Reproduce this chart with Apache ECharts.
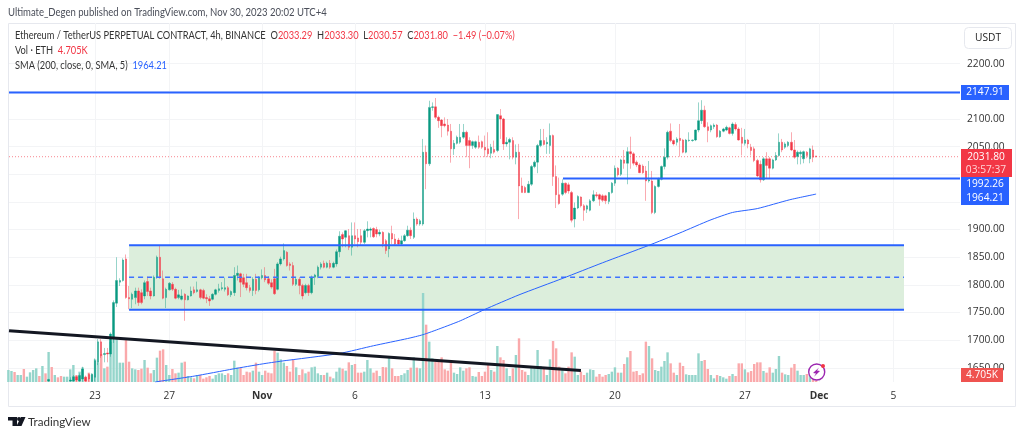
<!DOCTYPE html>
<html><head><meta charset="utf-8">
<style>html,body{margin:0;padding:0;background:#fff}#c{width:1024px;height:437px}</style>
<script src="https://cdn.jsdelivr.net/npm/echarts@6/dist/echarts.min.js"></script>
</head><body><div id="c"></div>
<script>
// open, close, low, high for each 4h candle
const candles=[
[1565,1568,1560,1572],[1568,1572,1565,1575],[1572,1568,1564,1575],[1568,1571,1565,1574],[1571,1575,1568,1578],
[1575,1570,1566,1578],[1570,1574,1568,1577],[1574,1580,1572,1583],[1580,1588,1578,1592],[1588,1596,1585,1600],
[1596,1590,1586,1599],[1590,1600,1588,1606],[1600,1594,1590,1604],[1626,1629,1625,1630],[1616,1606,1600,1620],
[1606,1610,1603,1613],[1610,1606,1602,1613],[1606,1603,1600,1609],[1603,1608,1600,1612],[1608,1616,1605,1622],
[1626,1628,1625,1633],[1626,1634,1625,1637],[1634,1628,1625,1636],[1626,1636,1625,1640],[1630,1648,1625,1652],
[1633,1626,1625,1636],[1638,1630,1625,1640],[1625.5,1639,1625,1640],[1633,1663,1625.5,1667],[1660,1697,1655,1702],
[1697,1672,1668,1702],[1674,1676,1660,1686],[1677,1675,1660,1686],[1675,1711,1670,1714],[1705,1768,1695,1772],
[1767,1808,1760,1850],[1805,1808,1798,1812],[1808,1845,1806,1848],[1847,1777,1775,1855],
[1777,1775,1756,1798],[1774,1783,1758,1786],[1777,1789,1765,1795],[1789,1768,1762,1795],[1786,1768,1765,1792],
[1780,1804,1774,1808],[1806,1788,1780,1815],[1789,1780,1774,1795],[1780,1814,1779,1817],[1814,1850,1811,1853],
[1850,1814,1811,1871],[1811,1776,1774,1826],[1777,1792,1758,1795],[1791,1803,1790,1805],[1801,1792,1789,1805],
[1792,1776,1774,1795],[1777,1782,1774,1791],[1774,1780,1772,1792],[1783,1773,1735,1785],[1773,1780,1772,1781],
[1780,1789,1779,1797],[1791,1786,1783,1797],[1788,1791,1786,1806],[1791,1777,1774,1793],[1790,1776,1774,1793],
[1777,1775,1767,1783],[1775,1771,1762,1780],[1774,1783,1772,1785],[1783,1791,1781,1793],[1790,1793,1786,1802],
[1793,1795,1790,1805],[1792,1795,1788,1813],[1795,1782,1780,1798],[1782,1788,1778,1790],[1786,1817,1780,1832],
[1817,1821,1808,1835],[1820,1805,1778,1822],[1813,1801,1796,1820],[1804,1795,1790,1820],[1795,1790,1786,1800],
[1790,1810,1780,1814],[1810,1790,1783,1820],[1791,1813,1788,1816],[1813,1817,1810,1828],[1817,1809,1805,1832],
[1811,1803,1800,1816],[1804,1796,1793,1810],[1811,1784,1782,1829],[1792,1838,1790,1841],[1838,1847,1835,1851],
[1847,1862,1844,1875],[1859,1835,1833,1861],[1838,1835,1826,1841],[1835,1801,1798,1841],[1801,1810,1798,1813],
[1810,1799,1783,1814],[1799,1780,1774,1802],[1786,1799,1783,1802],[1799,1786,1780,1802],[1786,1814,1783,1817],
[1814,1818,1800,1820],[1815,1832,1812,1835],[1832,1838,1828,1841],[1839,1832,1830,1844],[1832,1839,1830,1842],
[1839,1832,1829,1845],[1832,1839,1830,1842],[1838,1860,1833,1864],[1860,1888,1850,1897],[1891,1883,1868,1895],
[1886,1898,1868,1899],[1889,1868,1863,1901],[1868,1889,1853,1913],[1889,1883,1874,1913],[1885,1878,1868,1901],
[1889,1877,1871,1901],[1877,1898,1874,1901],[1898,1901,1886,1915],[1899,1901,1886,1904],[1902,1887,1885,1904],
[1900,1892,1886,1905],[1892,1895,1888,1900],[1895,1874,1868,1897],[1880,1862,1856,1883],[1865,1893,1850,1895],
[1893,1883,1874,1907],[1883,1874,1871,1892],[1881,1874,1871,1885],[1874,1880,1871,1889],[1880,1889,1878,1892],
[1889,1899,1887,1907],[1899,1889,1883,1904],[1886,1919,1883,1931],[1919,1910,1907,1922],[1910,1916,1907,1919],
[1910,2040,1907,2064],[2040,2019,1973,2052],[2019,2121,2015,2133],[2121,2122,2115,2130],[2122,2103,2100,2138],
[2103,2097,2084,2106],[2098,2088,2067,2100],[2091,2088,2085,2103],[2089,2078,2070,2100],[2078,2046,2021,2091],
[2046,2056,2035,2062],[2056,2067,2054,2070],[2058,2067,2055,2091],[2067,2076,2064,2091],[2076,2052,2031,2079],
[2061,2052,2011,2067],[2052,2059,2046,2061],[2049,2059,2046,2061],[2058,2049,2046,2070],[2059,2049,2046,2061],
[2049,2044,2031,2070],[2046,2037,2031,2076],[2038,2049,2029,2055],[2045,2040,2037,2061],[2043,2108,2040,2108],
[2106,2100,2064,2118],[2100,2055,2044,2102],[2055,2058,2050,2067],[2058,2063,2027,2066],[2061,2031,2027,2067],
[2031,2040,2018,2054],[2040,1979,1919,2055],[1979,1967,1967,1994],[1976,1967,1966,1979],[1967,1982,1966,1988],
[1982,2014,1979,2017],[2014,2022,2011,2025],[2022,2052,2002,2055],[2052,2061,2049,2082],[2061,2054,2052,2082],
[2055,2058,2037,2067],[2052,2070,2037,2092],[2070,1996,1979,2072],[1996,1963,1939,2016],[1963,1947,1945,1994],
[1964,1984,1961,1991],[1984,1967,1964,1985],[1981,1970,1965,1985],[1967,1917,1913,1970],[1919,1939,1904,1949],
[1939,1960,1937,1962],[1959,1943,1940,1960],[1943,1935,1916,1946],[1937,1943,1930,1945],[1935,1952,1933,1955],
[1952,1963,1950,1971],[1963,1961,1958,1968],[1963,1955,1943,1965],[1961,1953,1950,1964],[1961,1952,1946,1963],
[1951,1967,1946,1968],[1967,1984,1965,1986],[1984,2011,1979,2016],[2011,1999,1996,2013],[2000,2026,1997,2028],
[2026,2020,2010,2044],[2020,2041,1982,2049],[2041,2037,2010,2068],[2037,2020,2016,2040],[2022,2017,2013,2025],
[2017,2003,2002,2020],[2015,2003,2001,2018],[2006,1988,1952,2015],[1988,1990,1985,2024],[1988,1931,1928,2006],
[1931,1978,1928,1980],[1978,1991,1976,1994],[1991,2014,1989,2016],[2014,2031,2009,2047],[2031,2076,2027,2079],
[2078,2061,2058,2092],[2061,2055,2052,2063],[2058,2064,2052,2067],[2065,2061,2032,2091],[2062,2040,2038,2064],
[2040,2062,2038,2064],[2061,2062,2059,2076],[2061,2062,2059,2063],[2062,2080,2060,2081],[2080,2097,2076,2130],
[2097,2116,2091,2134],[2116,2086,2084,2124],[2086,2079,2058,2094],[2080,2088,2076,2090],[2086,2089,2082,2092],
[2089,2068,2066,2091],[2068,2078,2066,2080],[2078,2082,2076,2084],[2080,2085,2078,2088],[2084,2074,2072,2086],
[2074,2091,2070,2094],[2090,2082,2079,2094],[2082,2062,2061,2085],[2067,2056,2034,2084],[2056,2062,2052,2082],
[2062,2055,2047,2064],[2049,2043,2034,2055],[2046,2025,2022,2050],[2025,1997,1995,2028],[2018,1990,1985,2025],
[1990,2028,1988,2031],[2028,2016,1993,2040],[2028,2011,1993,2031],[2011,2026,2009,2028],[2026,2034,2024,2040],
[2034,2058,2032,2074],[2058,2044,2040,2064],[2049,2055,2046,2058],[2052,2058,2049,2060],[2058,2044,2042,2076],
[2044,2031,2028,2062],[2032,2040,2018,2043],[2037,2040,2018,2043],[2028,2041,2020,2043],[2040,2034,2029,2042],
[2028,2046,2020,2048],[2044,2031,2022,2052],[2033.29,2031.80,2030.57,2033.30]
];
// volume per candle, thousands of ETH
const volumes=[
36,33,30,21,21,39,16,29,36,41,18,48,26,90,45,21,14,18,16,16,
38,51,21,31,44,16,28,21,68,58,84,41,46,121,136,131,58,58,128,61,
41,38,36,40,66,43,26,36,73,94,98,51,21,39,26,28,58,61,18,14,
11,21,21,10,14,18,10,21,26,26,21,26,21,64,43,43,21,31,29,34,
58,31,21,34,28,26,94,88,68,58,48,31,68,44,21,38,26,31,44,46,
26,21,21,28,16,11,31,43,40,34,59,51,54,28,28,31,66,41,28,34,
18,45,44,76,41,18,18,21,26,36,43,74,43,41,267,172,121,71,61,61,
74,38,34,61,28,24,44,34,41,44,18,16,30,18,31,54,36,31,108,74,
66,41,18,41,81,131,36,31,21,46,46,96,48,44,21,68,123,101,46,36,
26,46,89,76,21,31,21,28,38,36,16,24,16,21,24,31,44,28,28,54,
74,93,31,33,21,26,121,108,71,36,33,46,63,89,56,28,21,58,48,23,
21,21,21,86,63,66,39,21,11,21,18,14,10,18,24,18,56,56,38,29,
33,54,59,59,33,28,44,28,39,78,28,23,21,43,54,34,21,21,24,21,8,4.705
];
// SMA readings: candle position and price
const smaPos=[47.4,60,72.6,82,88,107,118,129,134,139.5,146,153.7,165,179.2,192,206.7,217,226.7,234,242,252.5,261];
const smaVal=[1624.5,1635,1648,1657,1662,1676,1690,1703,1710,1721,1735,1755,1782,1812,1840,1871,1894,1917,1931,1938,1954,1964.21];
// axis ticks
const tickPos=[28,52,82,112,154,196,238,262,286];
const tickText=['23','27','Nov','6','13','20','27','Dec','5'];
const priceTicks=[1650,1700,1750,1800,1850,1900,1950,2000,2050,2100,2150,2200];
// drawn levels
const resistance=2147.91, support=1992.26, supportStart=179.2, lastPrice=2031.80;
const boxTop=1871.8, boxMid=1813.7, boxBottom=1755, boxStart=39, boxEnd=289.4;
const trendPos=[0.2,185], trendVal=[1717.2,1645];
const xMin=0.2,xMax=307.5,yMin=1624.4,yMax=2273.6;

const UP='#089981',DN='#F23645';
const FONT='"Open Sans",sans-serif', HEAD='Lato,sans-serif';
const line=(data,color,width,type,z,extra)=>Object.assign({type:'line',data,xAxisIndex:0,yAxisIndex:0,symbol:'none',silent:true,z:z||5,
  lineStyle:{color,width,type:type||'solid'},animation:false},extra||{});
const rect=(x,y,w,h,fill,r)=>({type:'rect',z:100,shape:{x,y,width:w,height:h,r:r||0},style:{fill}});
const txt=(x,y,t,o,e)=>Object.assign({type:'text',z:101,x,y,style:Object.assign({text:t,fill:'#fff',font:'10.2px '+FONT,textVerticalAlign:'middle'},o||{})},e||{});
const k={fill:'#333',font:'10.6px '+HEAD}, r={fill:'#F23645',font:'10.6px '+HEAD}, b={fill:'#2962FF',font:'10.6px '+HEAD};
const SX=0.875;

const chart=echarts.init(document.getElementById('c'),null,{renderer:'canvas'});
chart.setOption({
 animation:false,backgroundColor:'#fff',
 grid:[{left:9,top:23,width:951,height:359},{left:9,top:23,width:951,height:359}],
 xAxis:[
  {type:'value',gridIndex:0,min:xMin,max:xMax,axisLine:{show:false},
   axisTick:{show:false,customValues:tickPos},
   splitLine:{show:true,lineStyle:{color:'#F3F4F6',width:1}},
   axisLabel:{customValues:tickPos,margin:9,color:'#333',fontFamily:FONT,fontSize:10.2,
     formatter:v=>{const t=tickText[tickPos.indexOf(v)];return (t==='Nov'||t==='Dec')?'{m|'+t+'}':t;},
     rich:{m:{fontWeight:'bold',color:'#333',fontFamily:FONT,fontSize:10.2}}}},
  {type:'value',gridIndex:1,min:xMin,max:xMax,show:false}],
 yAxis:[
  {type:'value',gridIndex:0,position:'right',min:yMin,max:yMax,axisLine:{show:false},
   axisTick:{show:false,customValues:priceTicks},
   splitLine:{show:true,lineStyle:{color:'#F3F4F6',width:1}},
   axisLabel:{customValues:priceTicks,margin:7,color:'#333',fontFamily:FONT,fontSize:10.2,formatter:v=>v.toFixed(2)}},
  {type:'value',gridIndex:1,min:0,max:1077,show:false}],
 series:[
  {type:'bar',xAxisIndex:1,yAxisIndex:1,barWidth:2.4,z:1,silent:true,
   data:volumes.map((v,i)=>({value:[i,v],itemStyle:{color:candles[i][1]>=candles[i][0]?'#95D5CB':'#FAA9AB'}}))},
  {type:'line',data:[],xAxisIndex:0,yAxisIndex:0,symbol:'none',z:1,silent:true,
   markArea:{silent:true,z:1,itemStyle:{color:'#DCEEDC'},data:[[{xAxis:boxStart,yAxis:boxTop},{xAxis:boxEnd,yAxis:boxBottom}]]}},
  {type:'candlestick',xAxisIndex:0,yAxisIndex:0,barWidth:2,z:3,silent:true,
   encode:{x:0,y:[1,2,3,4]},
   itemStyle:{color:UP,color0:DN,borderColor:'rgba(8,153,129,.42)',borderColor0:'rgba(242,54,69,.42)',borderWidth:1},
   data:candles.map((c,i)=>[i,c[0],c[1],c[2],c[3]])},
  line([[xMin,lastPrice],[xMax,lastPrice]],'rgba(242,54,69,.6)',1,[1,2],2),
  line(smaPos.map((p,i)=>[p,smaVal[i]]),'#2962FF',1,'solid',6,{smooth:0.2}),
  line([[xMin,resistance],[xMax,resistance]],'#2962FF',2),
  line([[supportStart,support],[xMax,support]],'#2962FF',2),
  line([[boxStart,boxTop],[boxEnd,boxTop]],'#2962FF',2),
  line([[boxStart,boxBottom],[boxEnd,boxBottom]],'#2962FF',2),
  line([[boxStart,boxMid],[boxEnd,boxMid]],'#3E72FF',1.5,[5,4]),
  line(trendPos.map((p,i)=>[p,trendVal[i]]),'#131722',3,'solid',7)
 ],
 graphic:[
  {type:'rect',z:0,silent:true,shape:{x:8.5,y:23.5,width:1007,height:383},style:{fill:'none',stroke:'#E6E8EE',lineWidth:1}},
  txt(8,13,'Ultimate_Degen published on TradingView.com, Nov 30, 2023 20:02 UTC+4',{fill:'#4A4E59',font:'10.6px '+HEAD},{scaleX:0.9}),
  {type:'text',z:101,x:15,y:36,scaleX:SX,style:{text:'{k|Ethereum / TetherUS PERPETUAL CONTRACT, 4h, BINANCE  O}{r|2033.29}{k|  H}{r|2033.30}{k|  L}{r|2030.57}{k|  C}{r|2031.80}{r|  \u22121.49 (\u22120.07%)}',
     textVerticalAlign:'middle',rich:{k,r}}},
  {type:'text',z:101,x:15,y:51,scaleX:SX,style:{text:'{k|Vol \u00B7 ETH  }{r|4.705K}',textVerticalAlign:'middle',rich:{k,r}}},
  {type:'text',z:101,x:15,y:66,scaleX:SX,style:{text:'{k|SMA (200, close, 0, SMA, 5)  }{b|1964.21}',textVerticalAlign:'middle',rich:{k,b}}},
  {type:'rect',z:100,shape:{x:964.5,y:27.5,width:47,height:21,r:4},style:{fill:'#fff',stroke:'#E6E8EE',lineWidth:1}},
  txt(988,38,'USDT',{fill:'#222',textAlign:'center'}),
  rect(961,85,48,15,'#2962FF'),txt(985,92.5,'2147.91',{textAlign:'center'}),
  rect(961,177,48,28,'#2962FF'),txt(985,184.5,'1992.26',{textAlign:'center'}),txt(985,198,'1964.21',{textAlign:'center'}),
  rect(961,149,51,28,'#F23645'),txt(986,157,'2031.80',{textAlign:'center'}),txt(986,170,'03:57:37',{textAlign:'center',fill:'#FFD5D8'}),
  rect(961,368,42,14,'#EF5350'),txt(982,375.5,'4.705K',{textAlign:'center'}),
  {type:'circle',z:100,shape:{cx:816.7,cy:372,r:8},style:{fill:'#fff',stroke:'#9C27B0',lineWidth:1.4}},
  {type:'polygon',z:101,shape:{points:[[819,367.5],[813,373],[816,373.5],[814,376.8],[820,371],[817,370.5]]},style:{fill:'#9C27B0'}},
  {type:'circle',z:102,shape:{cx:823,cy:366,r:2},style:{fill:'#F23645'}},
  {type:'polygon',z:100,shape:{points:[[8,417],[17,417],[17,426],[12.5,426],[12.5,420.5],[8,420.5]]},style:{fill:'#131722'}},
  {type:'circle',z:100,shape:{cx:19,cy:419,r:2},style:{fill:'#131722'}},
  {type:'polygon',z:100,shape:{points:[[21,417],[25.5,417],[21.5,426],[16.5,426]]},style:{fill:'#131722'}},
  txt(28,422,'TradingView',{fill:'#333',font:'11.6px '+HEAD})
 ]
});
</script></body></html>
